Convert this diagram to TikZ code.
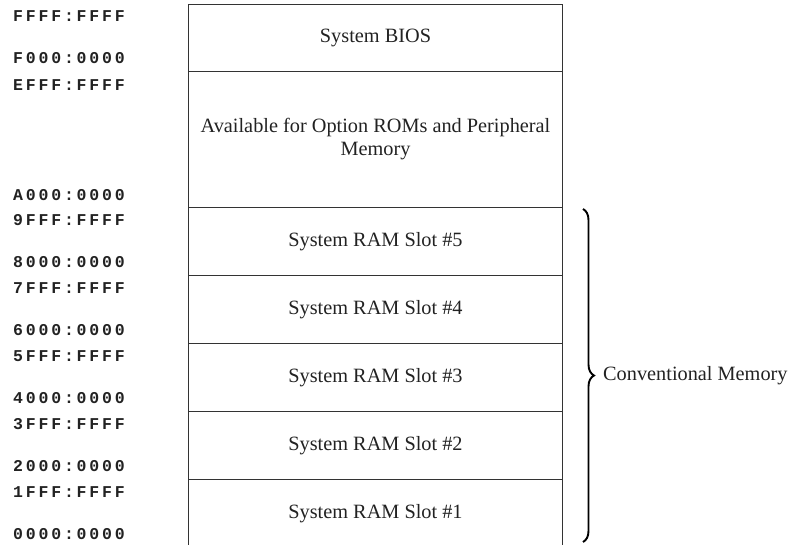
\documentclass[tikz,border=0pt]{standalone}
\usepackage{fontspec}
\setmainfont{Liberation Serif}
\newfontfamily\addrfont[LetterSpace=17, UprightFont={* Bold}]{Liberation Mono}
\usetikzlibrary{decorations.pathreplacing}
\definecolor{ink}{HTML}{222222}
\definecolor{rule}{HTML}{333333}
\tikzset{
  cell/.style={draw=rule, line width=1pt, rectangle, minimum width=374pt, inner sep=0pt,
    font=\fontsize{20.3}{23}\selectfont, text=ink, align=center, anchor=north west},
  addr/.style={font=\addrfont\fontsize{16.5}{16.5}\selectfont, text=ink, anchor=west, inner sep=0pt},
  lbl/.style={font=\fontsize{20.3}{23}\selectfont, text=ink, anchor=west, inner sep=0pt},
  bracestyle/.style={draw=black, line width=1.9pt, decorate, decoration={brace, amplitude=11pt}}
}
\begin{document}
\begin{tikzpicture}[x=1pt, y=-1pt]
\useasboundingbox (0,0) rectangle (793,544);
\node[cell, minimum height=67pt] (bios) at (188,4) {System BIOS};
\node[cell, minimum height=136pt] (opt) at (188,71) {Available for Option ROMs and Peripheral\\Memory};
\node[cell, minimum height=68pt] (s5) at (188,207) {System RAM Slot \#5};
\node[cell, minimum height=68pt] (s4) at (188,275) {System RAM Slot \#4};
\node[cell, minimum height=68pt] (s3) at (188,343) {System RAM Slot \#3};
\node[cell, minimum height=68pt] (s2) at (188,411) {System RAM Slot \#2};
\node[cell, minimum height=68pt] (s1) at (188,479) {System RAM Slot \#1};

\node[addr] (a1) at (13,16.5) {FFFF:FFFF};
\node[addr] (a2) at (13,58) {F000:0000};
\node[addr] (a3) at (13,85) {EFFF:FFFF};
\node[addr] (a4) at (13,195) {A000:0000};
\node[addr] (a5) at (13,220.5) {9FFF:FFFF};
\node[addr] (a6) at (13,262.5) {8000:0000};
\node[addr] (a7) at (13,288.5) {7FFF:FFFF};
\node[addr] (a8) at (13,330.5) {6000:0000};
\node[addr] (a9) at (13,356.5) {5FFF:FFFF};
\node[addr] (a10) at (13,398.5) {4000:0000};
\node[addr] (a11) at (13,424.5) {3FFF:FFFF};
\node[addr] (a12) at (13,466.5) {2000:0000};
\node[addr] (a13) at (13,492.5) {1FFF:FFFF};
\node[addr] (a14) at (13,534) {0000:0000};

\coordinate (bt) at ([xshift=20pt,yshift=-2pt]s5.north east);
\coordinate (bb) at ([xshift=20pt]s1.east |- 0,542);
\draw[bracestyle] (bt) -- (bb);
\node[lbl] (conv) at (603,375.5) {Conventional Memory};
\end{tikzpicture}
\end{document}
